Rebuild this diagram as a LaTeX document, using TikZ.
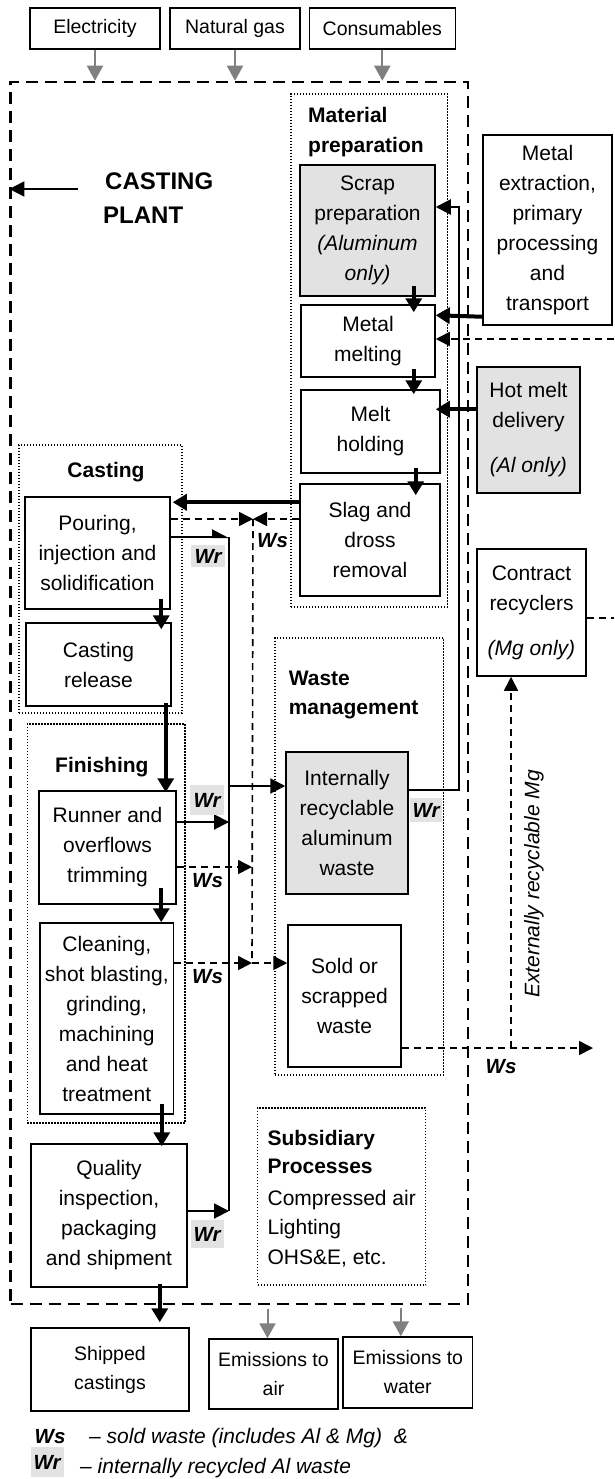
\documentclass[tikz,border=0pt]{standalone}
\usepackage{fontspec}
\setmainfont{Liberation Sans}
\usetikzlibrary{arrows.meta,calc}
\definecolor{boxgray}{RGB}{226,226,226}
\definecolor{arrgray}{RGB}{128,128,128}
\newcommand\fb{\fontsize{21}{30}\selectfont}
\newcommand\fio{\fontsize{19.5}{29}\selectfont}
\newcommand\flab{\fontsize{20.5}{22}\selectfont\bfseries\itshape}
\newcommand\fbig{\fontsize{24}{34}\selectfont\bfseries}
\begin{document}
\begin{tikzpicture}[x=1pt,y=-1pt,
 box/.style={draw, line width=1.5pt, rectangle, inner sep=0pt, align=center, font=\fb},
 iobox/.style={box, font=\fio},
 graybox/.style={box, fill=boxgray},
 grp/.style={draw, line width=1.3pt, dash pattern=on 1.3pt off 1.7pt, rectangle, inner sep=0pt},
 plantb/.style={draw, line width=2.5pt, dash pattern=on 12pt off 7pt, rectangle, inner sep=0pt},
 thickarr/.style={line width=4pt, -{Triangle[length=14pt,width=16pt]}},
 grayarr/.style={arrgray, line width=2pt, -{Triangle[length=15pt,width=16pt]}},
 wrline/.style={line width=2pt},
 wrarr/.style={line width=2pt, -{Triangle[length=15pt,width=15pt]}},
 wrhalf/.style={line width=2pt, -{Triangle[left,length=15pt,width=15pt]}},
 wsarr/.style={line width=1.6pt, dash pattern=on 7pt off 5pt, -{Triangle[length=14pt,width=14pt]}},
 wsline/.style={line width=1.6pt, dash pattern=on 7pt off 5pt},
 hdr/.style={font=\fb\bfseries, inner sep=0pt, anchor=base west},
 txt/.style={font=\fb, inner sep=0pt, anchor=base west},
 lab/.style={font=\flab, inner sep=0pt, anchor=base west},
 wrlab/.style={font=\flab, fill=boxgray, inner sep=0pt},
]
\useasboundingbox (0,0) rectangle (614,1479);

% plant border and groups
\node[plantb, minimum width=457.4pt, minimum height=1222pt] (plant) at (239.3,693) {};
\node[grp, minimum width=156.5pt, minimum height=513pt] (gmat) at (369.25,350.5) {};
\node[grp, minimum width=163pt, minimum height=268pt] (gcast) at (100.5,579) {};
\node[grp, minimum width=157.6pt, minimum height=399pt] (gfin) at (106.2,923.5) {};
\node[grp, minimum width=168.6pt, minimum height=437pt] (gwaste) at (359.3,856.5) {};
\node[grp, minimum width=168pt, minimum height=177pt] (gsub) at (341.6,1196.5) {};

% inputs
\node[iobox, minimum width=130pt, minimum height=41pt] (elec) at (95,28.5) {Electricity};
\node[iobox, minimum width=130pt, minimum height=41pt] (gas) at (235,28.5) {Natural gas};
\node[iobox, minimum width=146pt, minimum height=41pt] (cons) at (382.3,28.5) {Consumables};

% headings
\node[font=\fbig, inner sep=0pt, anchor=base west] (cp1) at (105,190) {CASTING};
\node[font=\fbig, inner sep=0pt, anchor=base west] (cp2) at (103,224) {PLANT};
\node[hdr] (mp1) at (308,123) {Material};
\node[hdr] (mp2) at (308,153) {preparation};
\node[hdr, anchor=base] (cst) at (106,477) {Casting};
\node[hdr] (fin) at (55,772) {Finishing};
\node[hdr] (wm1) at (288.6,685) {Waste};
\node[hdr] (wm2) at (288.6,714) {management};
\node[hdr] (sp1) at (267.4,1145) {Subsidiary};
\node[hdr] (sp2) at (267.4,1173) {Processes};
\node[txt] (sp3) at (267.4,1205) {Compressed air};
\node[txt] (sp4) at (267.4,1234) {Lighting};
\node[txt] (sp5) at (267.4,1264) {OHS\&E, etc.};

% material preparation
\node[graybox, minimum width=135pt, minimum height=131pt] (scrap) at (367.5,230.5) {Scrap\\preparation\\\textit{(Aluminum}\\\textit{only)}};
\node[box, minimum width=134pt, minimum height=72pt] (melting) at (368,341) {Metal\\melting};
\node[box, minimum width=139pt, minimum height=83pt] (holding) at (370.5,431.5) {Melt\\holding};
\node[box, minimum width=140pt, minimum height=112pt] (slag) at (370,540) {Slag and\\dross\\removal};

% outside right
\node[box, minimum width=129pt, minimum height=190pt] (extract) at (547.5,230) {Metal\\extraction,\\primary\\processing\\and\\transport};
\node[graybox, minimum width=103pt, minimum height=126pt] (hotmelt) at (528.5,430) {Hot melt\\delivery\\[15pt]\textit{(Al only)}};
\node[box, minimum width=109pt, minimum height=127pt] (contract) at (531.5,612.5) {Contract\\recyclers\\[15pt]\textit{(Mg only)}};

% casting and finishing
\node[box, minimum width=145pt, minimum height=112pt] (pouring) at (97.5,553) {Pouring,\\injection and\\solidification};
\node[box, minimum width=145pt, minimum height=83pt] (release) at (98.5,664.5) {Casting\\release};
\node[box, minimum width=137pt, minimum height=113pt] (runner) at (107.5,847.5) {Runner and\\overflows\\trimming};
\node[box, minimum width=133.5pt, minimum height=191pt] (cleaning) at (106.75,1018.5) {Cleaning,\\shot blasting,\\grinding,\\machining\\and heat\\treatment};
\node[box, minimum width=156pt, minimum height=143pt] (quality) at (109,1215.5) {Quality\\inspection,\\packaging\\and shipment};

% waste management
\node[graybox, minimum width=122pt, minimum height=142pt] (internal) at (347,823) {Internally\\recyclable\\aluminum\\waste};
\node[box, minimum width=113pt, minimum height=142pt] (sold) at (344.5,996) {Sold or\\scrapped\\waste};

% outputs
\node[iobox, minimum width=158pt, minimum height=83pt] (shipped) at (110,1369.5) {Shipped\\castings};
\node[iobox, minimum width=129pt, minimum height=70pt] (air) at (273.5,1374) {Emissions to\\air};
\node[iobox, minimum width=129.6pt, minimum height=71pt] (water) at (407.8,1372.5) {Emissions to\\water};

% gray arrows
\draw[grayarr] (elec.south) -- (elec.south |- plant.north);
\draw[grayarr] (gas.south) -- (gas.south |- plant.north);
\draw[grayarr] (cons.south) -- (cons.south |- plant.north);
\draw[grayarr] ([xshift=-6pt,yshift=-4pt]air.north |- plant.south) -- ([xshift=-6pt]air.north);
\draw[grayarr] ([xshift=-7pt,yshift=-3pt]water.north |- plant.south) -- ([xshift=-7pt]water.north);

% casting plant arrow
\coordinate (cpa) at (78,189);
\draw[wrarr] (cpa) -- (cpa -| plant.west);

% thick arrows
\draw[thickarr] ([xshift=-22pt,yshift=11pt]scrap.south east) -- ([xshift=-22pt,yshift=-8pt]melting.north east);
\draw[thickarr] ([xshift=-22pt,yshift=9pt]melting.south east) -- ([xshift=-27pt,yshift=-5pt]holding.north east);
\draw[thickarr] ([xshift=-25pt,yshift=6pt]holding.south east) -- ([xshift=-25pt,yshift=-12pt]slag.north east);
\draw[thickarr] ([yshift=-19pt]slag.north west) -- ([xshift=2pt,yshift=-6pt]pouring.north east);
\draw[thickarr] ([yshift=9pt]extract.south west) -- ([yshift=-11pt]melting.north east);
\draw[thickarr] ([yshift=-43pt]hotmelt.north west) -- ([xshift=-5pt,yshift=-20pt]holding.north east);
\draw[thickarr] ([xshift=-9.5pt,yshift=11pt]pouring.south east) -- ([xshift=-10.5pt,yshift=-7pt]release.north east);
\draw[thickarr] ([xshift=-6pt,yshift=4pt]release.south east) -- ([xshift=-11pt,yshift=-2pt]runner.north east);
\draw[thickarr] ([xshift=-15.5pt,yshift=17pt]runner.south east) -- ([xshift=-13pt]cleaning.north east);
\draw[thickarr] ([xshift=-12.5pt,yshift=11pt]cleaning.south east) -- ([xshift=-26pt,yshift=-3pt]quality.north east);
\draw[thickarr] ([xshift=-28pt,yshift=4pt]quality.south east) -- ([xshift=-30pt,yshift=5pt]shipped.north east);

% Wr network (internally recycled)
\coordinate (vtop) at (229,537);
\coordinate (vrun) at (229,822);
\coordinate (vint) at (229,786);
\coordinate (vbot) at (229,1211);
\coordinate (rbot) at (459,790);
\coordinate (rtop) at (459,207);
\draw[wrline] (vtop) -- (vbot);
\draw[wrhalf] (pouring.east |- vtop) -- (vtop);
\draw[wrarr] (runner.east |- vrun) -- (vrun);
\draw[wrarr] (quality.east |- vbot) -- (vbot);
\draw[wrarr] (vint) -- (vint -| internal.west);
\draw[wrarr] (internal.east |- rbot) -- (rbot) -- (rtop) -- (rtop -| scrap.east);

% Ws network (sold waste)
\coordinate (ws0) at (253,519);
\coordinate (wsr) at (252,867);
\coordinate (ws1) at (252,963);
\coordinate (ws2) at (511,1048);
\coordinate (wsend) at (593,1048);
\coordinate (edgeC) at (614,618);
\coordinate (edgeM) at (614,339);
\draw[wsarr] (pouring.east |- ws0) -- (ws0);
\draw[wsarr] (slag.west |- ws0) -- (ws0);
\draw[wsline] (ws0) -- (ws1);
\draw[wsarr] (runner.east |- wsr) -- (wsr);
\draw[wsarr] (cleaning.east |- ws1) -- (ws1);
\draw[wsarr] (ws1) -- (ws1 -| sold.west);
\draw[wsarr] (sold.east |- ws2) -- (wsend);
\draw[wsarr] (ws2) -- (ws2 |- contract.south);
\draw[wsline] (contract.east |- edgeC) -- (edgeC);
\draw[wsarr] (edgeM) -- (edgeM -| melting.east);

% labels
\node[wrlab, minimum width=34pt, minimum height=22pt] (wr1) at (208,556) {Wr};
\node[wrlab, minimum width=34pt, minimum height=30pt] (wr2) at (207,800) {Wr};
\node[wrlab, minimum width=32pt, minimum height=24pt] (wr3) at (426,810) {Wr};
\node[wrlab, minimum width=33pt, minimum height=28pt] (wr4) at (207,1234) {Wr};
\node[lab] (ws1l) at (257,547) {Ws};
\node[lab] (ws2l) at (192,887) {Ws};
\node[lab] (ws3l) at (192,983) {Ws};
\node[lab] (ws4l) at (485.5,1073) {Ws};
\node[font=\fb\itshape, rotate=90, inner sep=0pt] (ext) at (534,884) {Externally recyclable Mg};

% legend
\node[lab] (lgws) at (34.5,1443) {Ws};
\node[txt, font=\fb\itshape] (lgws2) at (89,1443) {– sold waste (includes Al \& Mg)\ \ \&};
\node[wrlab, minimum width=33pt, minimum height=30pt] (lgwr) at (47,1462) {Wr};
\node[txt, font=\fb\itshape] (lgwr2) at (80,1473) {– internally recycled Al waste};
\end{tikzpicture}
\end{document}
